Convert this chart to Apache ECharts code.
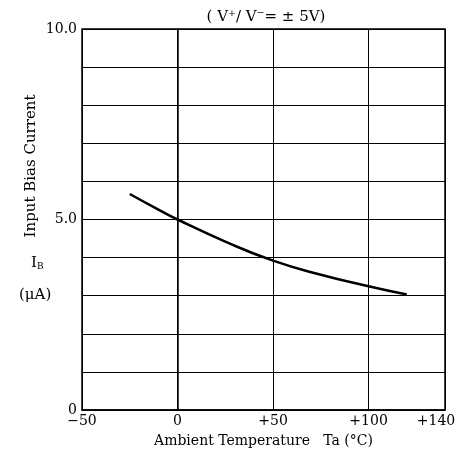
<!DOCTYPE html>
<html><head><meta charset="utf-8">
<script src="https://cdn.jsdelivr.net/npm/echarts@6/dist/echarts.min.js"></script>
<style>html,body{margin:0;padding:0;background:#fff}#c{width:460px;height:458px}</style>
</head><body><div id="c"></div>
<script>
var temps = [-25, -10, 0, 25, 50, 75, 100, 120];
var biasCurrent = [5.67, 5.26, 5.0, 4.42, 3.92, 3.55, 3.25, 3.03];
var xTickLabels = [-50, 0, 50, 100, 140];
var yTickLabels = [0, 5, 10];
var F = '"DejaVu Serif","Liberation Serif",serif';
var chart = echarts.init(document.getElementById('c'));
chart.setOption({
  animation: false,
  backgroundColor: '#fff',
  grid: {left: 82, right: 15, top: 29, bottom: 48, outerBoundsMode: 'none', containLabel: false,
    show: true, borderColor: '#000', borderWidth: 1.5, backgroundColor: 'transparent'},
  title: {text: '( V\u207A/ V\u207B= \u00B1 5V)', left: 261, top: 5, textAlign: 'center',
    textStyle: {fontFamily: F, fontSize: 15, fontWeight: 'normal', color: '#000'}},
  xAxis: {type: 'value', min: -50, max: 140, interval: 50,
    name: 'Ambient Temperature   Ta (\u00B0C)', nameLocation: 'middle', nameGap: 24,
    nameTextStyle: {fontFamily: F, fontSize: 14, color: '#000'},
    axisLine: {show: true, lineStyle: {color: '#000', width: 1.5}},
    axisTick: {show: false},
    splitLine: {show: true, lineStyle: {color: '#000', width: 1}},
    axisLabel: {customValues: xTickLabels, margin: 4, fontFamily: F, fontSize: 14, color: '#000',
      rich: {r: {fontFamily: F, fontSize: 14, color: '#000', padding: [0, 18, 0, 0]}},
      formatter: function (v) {
        if (v === 140) return '{r|+140}';
        return v > 0 ? '+' + v : (v < 0 ? '\u2212' + Math.abs(v) : '0');
      }}
  },
  yAxis: {type: 'value', min: 0, max: 10, interval: 1,
    axisLine: {show: true, lineStyle: {color: '#000', width: 1.5}},
    axisTick: {show: false},
    splitLine: {show: true, lineStyle: {color: '#000', width: 1}},
    axisLabel: {customValues: yTickLabels, margin: 5, fontFamily: F, fontSize: 14, color: '#000',
      formatter: function (v) { return v === 0 ? '0' : v.toFixed(1); }}
  },
  graphic: [
    {type: 'text', x: 31, y: 166, rotation: Math.PI / 2,
      style: {text: 'Input Bias Current', font: '15px ' + F, fill: '#000', align: 'center', verticalAlign: 'middle'}},
    {type: 'text', left: 31, top: 256, style: {text: '{a|I}{b|B}', rich: {a: {fontFamily: F, fontSize: 15, fill: '#000'}, b: {fontFamily: F, fontSize: 9, fill: '#000', padding: [6, 0, 0, 0]}}}},
    {type: 'text', left: 19, top: 288, style: {text: '(\u03BCA)', font: '15px ' + F, fill: '#000'}}
  ],
  series: [{type: 'line', smooth: true, showSymbol: false,
    data: temps.map(function (t, i) { return [t, biasCurrent[i]]; }),
    lineStyle: {color: '#000', width: 2.5}}]
});
</script></body></html>
